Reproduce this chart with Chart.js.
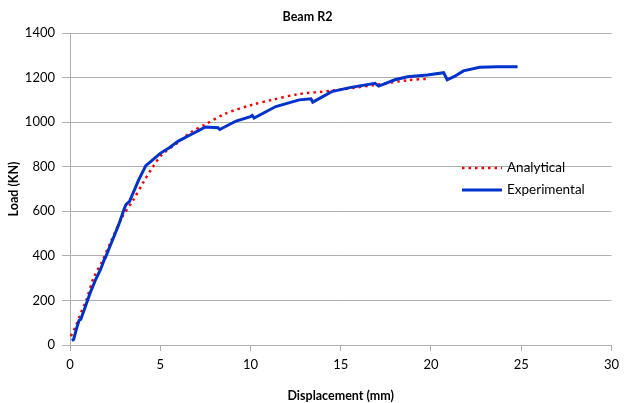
<!DOCTYPE html>
<html>
<head>
<meta charset="utf-8">
<script src="https://cdn.jsdelivr.net/npm/chart.js@4"></script>
<style>
  html, body { margin: 0; padding: 0; background: #fff; }
  #wrap { width: 625px; height: 403px; position: relative; }
</style>
</head>
<body>
<div id="wrap"><canvas id="grafiek"></canvas></div>
<script>
// meetpunten proef (verplaatsing in mm, belasting in kN)
const expX = [0.1, 0.2, 0.35, 0.5, 0.6, 0.8, 1.1, 1.4, 1.7, 1.9, 1.95, 2.3, 2.7, 3.0, 3.1, 3.3, 3.8, 4.2, 4.5, 5.0, 5.5, 6.0, 6.6, 7.2, 7.5, 8.2, 8.3, 9.2, 10.0, 10.1, 10.2, 11.4, 12.7, 13.35, 13.45, 14.5, 15.5, 16.9, 17.1, 18.0, 18.7, 19.8, 20.7, 20.9, 21.3, 21.8, 22.7, 23.7, 24.8];
const expY = [20, 25, 70, 110, 115, 160, 230, 290, 340, 384, 390, 460, 540, 610, 630, 645, 740, 805, 825, 860, 885, 915, 940, 965, 978, 975, 967, 1005, 1025, 1030, 1018, 1070, 1100, 1105, 1090, 1137, 1155, 1174, 1162, 1190, 1204, 1212, 1222, 1190, 1205, 1230, 1246, 1249, 1249];

// berekende curve
const anaX = [0.05, 0.3, 0.6, 0.9, 1.3, 1.75, 2.3, 2.9, 3.5, 4.1, 4.6, 5.1, 6.0, 6.7, 7.5, 8.6, 10.1, 11.2, 12.6, 14.5, 16.9, 18.7, 19.9];
const anaY = [40, 80, 143, 200, 300, 370, 470, 575, 650, 735, 800, 855, 910, 955, 990, 1038, 1078, 1100, 1125, 1141, 1167, 1188, 1195];

const xTicks = [0, 5, 10, 15, 20, 25, 30];
const yTicks = [0, 200, 400, 600, 800, 1000, 1200, 1400];

const FONT = "Lato, 'Open Sans', sans-serif";
const GRIJS = '#b0b0b0';

const punten = (xs, ys) => xs.map((x, i) => ({ x, y: ys[i] }));

// legenda rechts in het plotvlak
const legendaPlugin = {
  id: 'legendaBinnen',
  afterDraw(chart) {
    const { ctx, chartArea } = chart;
    const x0 = chartArea.left + 392;
    const rijen = [chartArea.top + 135, chartArea.top + 157];
    ctx.save();
    ctx.font = `13.5px ${FONT}`;
    ctx.fillStyle = '#000';
    ctx.textBaseline = 'middle';
    chart.data.datasets.forEach((ds, i) => {
      const y = rijen[i];
      ctx.beginPath();
      ctx.strokeStyle = ds.borderColor;
      ctx.lineWidth = ds.borderWidth;
      ctx.setLineDash(ds.borderDash || []);
      ctx.moveTo(x0, y);
      ctx.lineTo(x0 + 40, y);
      ctx.stroke();
      ctx.setLineDash([]);
      ctx.fillText(ds.label, x0 + 45, y);
    });
    ctx.restore();
  },
};

new Chart(document.getElementById('grafiek'), {
  type: 'scatter',
  data: {
    datasets: [
      {
        label: 'Analytical',
        data: punten(anaX, anaY),
        showLine: true,
        borderColor: '#ff0000',
        borderWidth: 2.5,
        borderDash: [2.5, 4],
        pointRadius: 0,
        tension: 0.3,
        order: 2,
      },
      {
        label: 'Experimental',
        data: punten(expX, expY),
        showLine: true,
        borderColor: '#0033cc',
        borderWidth: 3,
        pointRadius: 0,
        tension: 0,
        order: 1,
      },
    ],
  },
  options: {
    responsive: true,
    maintainAspectRatio: false,
    animation: false,
    devicePixelRatio: 1,
    layout: { padding: { left: 0, right: 10, top: 0, bottom: 0 } },
    plugins: {
      legend: { display: false },
      tooltip: { enabled: false },
      title: {
        display: true,
        text: 'Beam R2',
        color: '#000',
        font: { family: FONT, size: 12.5, weight: 'bold' },
        padding: { top: 9, bottom: 9 },
      },
    },
    scales: {
      x: {
        type: 'linear',
        min: 0,
        max: 30,
        afterBuildTicks: scale => { scale.ticks = xTicks.map(value => ({ value })); },
        afterFit: scale => { scale.height = 58; },
        grid: { drawOnChartArea: false, color: GRIJS, tickLength: 6 },
        border: { color: GRIJS, width: 1 },
        ticks: { color: '#000', font: { family: FONT, size: 13 }, padding: 6, callback: v => String(v) },
        title: {
          display: true,
          text: 'Displacement (mm)',
          color: '#000',
          font: { family: FONT, size: 12.5, weight: 'bold' },
          padding: { top: 2, bottom: 0 },
        },
      },
      y: {
        min: 0,
        max: 1400,
        afterBuildTicks: scale => { scale.ticks = yTicks.map(value => ({ value })); },
        afterFit: scale => { scale.width = 70; },
        grid: { color: GRIJS, tickLength: 8 },
        border: { color: GRIJS, width: 1 },
        ticks: { color: '#000', font: { family: FONT, size: 13 }, padding: 7, callback: v => String(v) },
        title: {
          display: true,
          text: 'Load (KN)',
          color: '#000',
          font: { family: FONT, size: 12.5, weight: 'bold' },
          padding: { top: 6, bottom: 2 },
        },
      },
    },
  },
  plugins: [legendaPlugin],
});
</script>
</body>
</html>
